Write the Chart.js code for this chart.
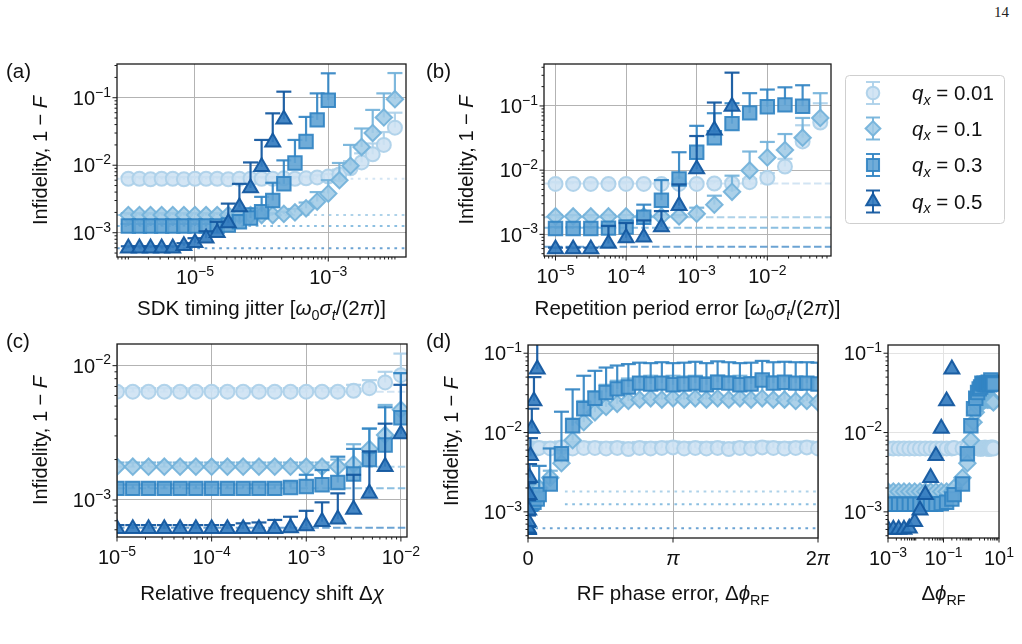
<!DOCTYPE html>
<html>
<head>
<meta charset="utf-8">
<script src="https://cdn.jsdelivr.net/npm/chart.js@4.4.1/dist/chart.umd.min.js"></script>
<style>
  body { margin: 0; background: #fff; }
  #fig { position: relative; width: 1022px; height: 644px; overflow: hidden; background: #fff; }
  #fig canvas { position: absolute; }
  #pagenum { position: absolute; left: 994px; top: 4px; font: 15px 'Liberation Serif', serif; color: #222; }
</style>
</head>
<body>
<div id="fig">
  <div id="pagenum">14</div>
  <canvas id="chart-a" width="420" height="290" style="left:0;top:40px"></canvas>
  <canvas id="chart-b" width="602" height="290" style="left:420px;top:40px"></canvas>
  <canvas id="chart-c" width="420" height="300" style="left:0;top:325px"></canvas>
  <canvas id="chart-d" width="410" height="300" style="left:420px;top:325px"></canvas>
  <canvas id="chart-d2" width="192" height="300" style="left:830px;top:325px"></canvas>
</div>
<script>
// ---------- dados ----------
// legenda
const legendLabels = ['0.01', '0.1', '0.3', '0.5'];

// (a) SDK timing jitter
const xA = [1e-6, 1.468e-6, 2.154e-6, 3.162e-6, 4.642e-6, 6.813e-6,
            1e-5, 1.468e-5, 2.154e-5, 3.162e-5, 4.642e-5, 6.813e-5,
            1e-4, 1.468e-4, 2.154e-4, 3.162e-4, 4.642e-4, 6.813e-4,
            1e-3, 1.468e-3, 2.154e-3, 3.162e-3, 4.642e-3, 6.813e-3, 1e-2];
const circA = [6.3e-3, 6.3e-3, 6.2e-3, 6.3e-3, 6.3e-3, 6.2e-3, 6.3e-3, 6.3e-3, 6.3e-3, 6.2e-3, 6.3e-3, 6.3e-3,
               6.3e-3, 6.3e-3, 6.4e-3, 6.3e-3, 6.4e-3, 6.6e-3, 6.8e-3, 7.3e-3, 9.0e-3, 1.1e-2, 1.45e-2, 2.0e-2, 3.6e-2];
const circAHi = [6.7e-3, 6.7e-3, 6.7e-3, 6.7e-3, 6.7e-3, 6.7e-3, 6.7e-3, 6.7e-3, 6.7e-3, 6.7e-3, 6.7e-3, 6.7e-3,
                 6.7e-3, 6.7e-3, 6.8e-3, 6.7e-3, 6.8e-3, 7.1e-3, 7.4e-3, 8.6e-3, 1.15e-2, 1.5e-2, 2.1e-2, 3.1e-2, 6.0e-2];
const diamA = [1.83e-3, 1.83e-3, 1.83e-3, 1.83e-3, 1.83e-3, 1.83e-3, 1.83e-3, 1.83e-3, 1.83e-3, 1.83e-3, 1.83e-3, 1.83e-3,
               1.83e-3, 1.83e-3, 1.9e-3, 2.0e-3, 2.3e-3, 2.9e-3, 3.8e-3, 6.0e-3, 9.8e-3, 1.86e-2, 3.0e-2, 5.1e-2, 9.5e-2];
const diamAHi = [1.95e-3, 1.95e-3, 1.95e-3, 1.95e-3, 1.95e-3, 1.95e-3, 1.95e-3, 1.95e-3, 1.95e-3, 1.95e-3, 1.95e-3, 1.95e-3,
                 1.95e-3, 1.95e-3, 2.05e-3, 2.25e-3, 2.8e-3, 4.0e-3, 6.0e-3, 1.08e-2, 2.0e-2, 3.5e-2, 6.6e-2, 1.16e-1, 2.32e-1];
const sqA = [1.26e-3, 1.26e-3, 1.26e-3, 1.26e-3, 1.26e-3, 1.26e-3, 1.26e-3, 1.26e-3, 1.26e-3, 1.3e-3,
             1.45e-3, 1.65e-3, 2.05e-3, 3.0e-3, 5.3e-3, 1.08e-2, 2.25e-2, 4.7e-2, 9.2e-2];
const sqAHi = [1.35e-3, 1.35e-3, 1.35e-3, 1.35e-3, 1.35e-3, 1.35e-3, 1.35e-3, 1.35e-3, 1.35e-3, 1.5e-3,
               1.8e-3, 2.3e-3, 3.4e-3, 5.5e-3, 1.18e-2, 2.37e-2, 5.2e-2, 1.16e-1, 2.3e-1];
const triA = [5.9e-4, 5.9e-4, 5.9e-4, 5.9e-4, 5.9e-4, 6.4e-4, 7.1e-4, 8.3e-4, 1.0e-3, 1.4e-3,
              2.4e-3, 4.6e-3, 9.5e-3, 2.2e-2, 4.8e-2];
const triAHi = [6.3e-4, 6.3e-4, 6.3e-4, 6.3e-4, 6.3e-4, 7.0e-4, 8.3e-4, 1.05e-3, 1.45e-3, 2.7e-3,
                5.3e-3, 1.1e-2, 2.37e-2, 5.87e-2, 1.23e-1];
const refA = [6.3e-3, 1.83e-3, 1.26e-3, 5.9e-4];

// (b) Repetition period error
const xB = [1e-5, 1.778e-5, 3.162e-5, 5.623e-5, 1e-4, 1.778e-4, 3.162e-4, 5.623e-4,
            1e-3, 1.778e-3, 3.162e-3, 5.623e-3, 1e-2, 1.778e-2, 3.162e-2, 5.623e-2];
const circB = [6.1e-3, 6.1e-3, 6.1e-3, 6.1e-3, 6.1e-3, 6.1e-3, 6.1e-3, 6.1e-3, 6.1e-3, 6.2e-3, 6.2e-3, 6.5e-3, 7.6e-3, 1.14e-2, 2.8e-2, 5.5e-2];
const circBHi = [6.5e-3, 6.5e-3, 6.5e-3, 6.5e-3, 6.5e-3, 6.5e-3, 6.5e-3, 6.5e-3, 6.5e-3, 6.7e-3, 6.8e-3, 7.3e-3, 9.0e-3, 1.5e-2, 5.0e-2, 1.1e-1];
const diamB = [1.9e-3, 1.9e-3, 1.9e-3, 1.9e-3, 1.9e-3, 1.9e-3, 1.9e-3, 1.9e-3, 2.1e-3, 2.9e-3, 4.6e-3, 9.9e-3, 1.58e-2, 2.06e-2, 3.2e-2, 6.5e-2];
const diamBHi = [2.0e-3, 2.0e-3, 2.0e-3, 2.0e-3, 2.0e-3, 2.0e-3, 2.0e-3, 2.0e-3, 2.6e-3, 4.0e-3, 8.2e-3, 1.95e-2, 2.75e-2, 3.65e-2, 6.5e-2, 1.58e-1];
const sqB = [1.23e-3, 1.23e-3, 1.23e-3, 1.25e-3, 1.3e-3, 1.85e-3, 3.4e-3, 7.3e-3, 1.9e-2, 3.2e-2, 5.3e-2, 7.8e-2, 9.7e-2, 1.04e-1, 9.9e-2];
const sqBHi = [1.3e-3, 1.3e-3, 1.3e-3, 1.4e-3, 1.6e-3, 2.9e-3, 7.0e-3, 1.9e-2, 4.9e-2, 7.7e-2, 1.1e-1, 1.58e-1, 1.8e-1, 1.95e-1, 2.1e-1];
const triB = [5.9e-4, 5.9e-4, 5.9e-4, 7.2e-4, 8.8e-4, 9.0e-4, 1.3e-3, 2.8e-3, 1.04e-2, 4.2e-2, 9.8e-2];
const triBHi = [6.2e-4, 6.2e-4, 6.2e-4, 1.35e-3, 1.5e-3, 1.65e-3, 2.3e-3, 6.0e-3, 3.4e-2, 1.13e-1, 3.3e-1];
const refB = [6.2e-3, 1.85e-3, 1.27e-3, 6.4e-4];

// (c) Relative frequency shift
const xC = [1e-5, 1.468e-5, 2.154e-5, 3.162e-5, 4.642e-5, 6.813e-5, 1e-4, 1.468e-4, 2.154e-4, 3.162e-4,
            4.642e-4, 6.813e-4, 1e-3, 1.468e-3, 2.154e-3, 3.162e-3, 4.642e-3, 6.813e-3, 1e-2];
const circC = [6.4e-3, 6.4e-3, 6.4e-3, 6.4e-3, 6.4e-3, 6.4e-3, 6.4e-3, 6.4e-3, 6.4e-3, 6.4e-3,
               6.4e-3, 6.4e-3, 6.4e-3, 6.4e-3, 6.4e-3, 6.5e-3, 6.8e-3, 7.5e-3, 8.5e-3];
const circCHi = [6.8e-3, 6.8e-3, 6.8e-3, 6.8e-3, 6.8e-3, 6.8e-3, 6.8e-3, 6.8e-3, 6.8e-3, 6.8e-3,
                 6.8e-3, 6.8e-3, 6.8e-3, 6.8e-3, 6.8e-3, 7.2e-3, 7.8e-3, 9.0e-3, 1.23e-2];
const diamC = [1.77e-3, 1.77e-3, 1.77e-3, 1.77e-3, 1.77e-3, 1.77e-3, 1.77e-3, 1.77e-3, 1.77e-3, 1.77e-3,
               1.77e-3, 1.77e-3, 1.77e-3, 1.77e-3, 1.77e-3, 1.85e-3, 2.4e-3, 3.05e-3, 4.7e-3];
const diamCHi = [1.9e-3, 1.9e-3, 1.9e-3, 1.9e-3, 1.9e-3, 1.9e-3, 1.9e-3, 1.9e-3, 1.9e-3, 1.9e-3,
                 1.9e-3, 1.9e-3, 1.9e-3, 1.9e-3, 2.0e-3, 2.6e-3, 3.4e-3, 5.1e-3, 8.8e-3];
const sqC = [1.22e-3, 1.22e-3, 1.22e-3, 1.22e-3, 1.22e-3, 1.22e-3, 1.22e-3, 1.22e-3, 1.22e-3, 1.22e-3,
             1.22e-3, 1.24e-3, 1.26e-3, 1.3e-3, 1.35e-3, 1.56e-3, 2.0e-3, 2.57e-3, 4.1e-3];
const sqCHi = [1.3e-3, 1.3e-3, 1.3e-3, 1.3e-3, 1.3e-3, 1.3e-3, 1.3e-3, 1.3e-3, 1.3e-3, 1.3e-3,
               1.3e-3, 1.35e-3, 1.54e-3, 1.67e-3, 2.1e-3, 2.4e-3, 3.4e-3, 4.9e-3, 8.8e-3];
const triC = [6.1e-4, 6.1e-4, 6.1e-4, 6.1e-4, 6.1e-4, 6.1e-4, 6.1e-4, 6.1e-4, 6.1e-4, 6.1e-4,
              6.1e-4, 6.2e-4, 6.4e-4, 6.9e-4, 7.2e-4, 8.5e-4, 1.12e-3, 1.77e-3, 3.1e-3];
const triCHi = [6.5e-4, 6.5e-4, 6.5e-4, 6.5e-4, 6.5e-4, 6.5e-4, 6.5e-4, 6.5e-4, 6.7e-4, 6.8e-4,
                7.1e-4, 7.5e-4, 8.3e-4, 9.6e-4, 1.12e-3, 1.54e-3, 2.3e-3, 3.7e-3, 7.2e-3];
const refC = [6.4e-3, 1.77e-3, 1.22e-3, 6.2e-4];

// (d) RF phase error (mesmos pontos nos dois painéis)
const xD = [0.001, 0.00156, 0.00242, 0.00376, 0.00586, 0.00911, 0.0142, 0.0221, 0.0343, 0.0534, 0.083, 0.129, 0.2,
            0.242, 0.483, 0.725, 0.967, 1.208, 1.450, 1.692, 1.933, 2.175, 2.417, 2.658, 2.900, 3.142,
            3.383, 3.625, 3.866, 4.108, 4.350, 4.591, 4.833, 5.075, 5.316, 5.558, 5.800, 6.041, 6.283];
const circD = [6.3e-3, 6.3e-3, 6.3e-3, 6.3e-3, 6.3e-3, 6.3e-3, 6.3e-3, 6.3e-3, 6.3e-3, 6.3e-3, 6.3e-3, 6.3e-3, 6.3e-3,
               6.4e-3, 6.3e-3, 6.5e-3, 6.3e-3, 6.4e-3, 6.4e-3, 6.3e-3, 6.4e-3, 6.2e-3, 6.4e-3, 6.3e-3, 6.4e-3, 6.5e-3,
               6.3e-3, 6.4e-3, 6.3e-3, 6.4e-3, 6.2e-3, 6.4e-3, 6.3e-3, 6.5e-3, 6.4e-3, 6.3e-3, 6.4e-3, 6.5e-3, 6.3e-3];
const circDHi = [7.4e-3, 7.4e-3, 7.4e-3, 7.4e-3, 7.4e-3, 7.4e-3, 7.4e-3, 7.4e-3, 7.4e-3, 7.4e-3, 7.4e-3, 7.4e-3, 7.4e-3,
                 7.6e-3, 7.5e-3, 7.7e-3, 7.5e-3, 7.6e-3, 7.6e-3, 7.5e-3, 7.6e-3, 7.4e-3, 7.6e-3, 7.5e-3, 7.6e-3, 7.7e-3,
                 7.5e-3, 7.6e-3, 7.5e-3, 7.6e-3, 7.4e-3, 7.6e-3, 7.5e-3, 7.7e-3, 7.6e-3, 7.5e-3, 7.6e-3, 7.7e-3, 7.5e-3];
const diamD = [1.8e-3, 1.8e-3, 1.8e-3, 1.8e-3, 1.8e-3, 1.8e-3, 1.8e-3, 1.8e-3, 1.8e-3, 1.8e-3, 1.8e-3, 1.8e-3, 1.8e-3,
               2.0e-3, 2.7e-3, 4.1e-3, 8.0e-3, 1.35e-2, 1.8e-2, 2.1e-2, 2.3e-2, 2.5e-2, 2.6e-2, 2.7e-2, 2.6e-2, 2.7e-2,
               2.6e-2, 2.7e-2, 2.6e-2, 2.7e-2, 2.6e-2, 2.7e-2, 2.6e-2, 2.7e-2, 2.6e-2, 2.6e-2, 2.5e-2, 2.5e-2, 2.4e-2];
const diamDHi = [1.95e-3, 1.95e-3, 1.95e-3, 1.95e-3, 1.95e-3, 1.95e-3, 1.95e-3, 1.95e-3, 1.95e-3, 1.95e-3, 1.95e-3, 1.95e-3, 1.95e-3,
                 2.3e-3, 3.3e-3, 6.0e-3, 1.5e-2, 2.5e-2, 3.3e-2, 4.0e-2, 4.5e-2, 4.8e-2, 5.0e-2, 5.2e-2, 5.0e-2, 5.2e-2,
                 5.1e-2, 5.2e-2, 5.0e-2, 5.2e-2, 5.1e-2, 5.2e-2, 5.0e-2, 5.2e-2, 5.1e-2, 5.0e-2, 4.9e-2, 4.9e-2, 4.7e-2];
const sqD = [1.25e-3, 1.25e-3, 1.25e-3, 1.25e-3, 1.25e-3, 1.25e-3, 1.25e-3, 1.25e-3, 1.25e-3, 1.25e-3, 1.27e-3, 1.32e-3, 1.45e-3,
             1.65e-3, 2.25e-3, 5.4e-3, 1.22e-2, 2.0e-2, 2.7e-2, 3.2e-2, 3.55e-2, 3.75e-2, 4.2e-2, 4.1e-2, 4.2e-2, 4.0e-2,
             4.1e-2, 4.2e-2, 4.0e-2, 4.3e-2, 4.2e-2, 4.0e-2, 4.1e-2, 4.6e-2, 4.2e-2, 4.3e-2, 4.2e-2, 4.2e-2, 4.1e-2];
const sqDHi = [1.35e-3, 1.35e-3, 1.35e-3, 1.35e-3, 1.35e-3, 1.35e-3, 1.35e-3, 1.35e-3, 1.35e-3, 1.35e-3, 1.4e-3, 1.5e-3, 1.8e-3,
               3.8e-3, 6.3e-3, 1.83e-2, 3.5e-2, 5.2e-2, 6.0e-2, 6.6e-2, 7.0e-2, 7.3e-2, 7.6e-2, 7.5e-2, 7.7e-2, 7.5e-2,
               7.6e-2, 7.8e-2, 7.5e-2, 7.9e-2, 7.7e-2, 7.5e-2, 7.6e-2, 8.0e-2, 7.7e-2, 7.8e-2, 7.7e-2, 7.7e-2, 7.6e-2];
const triD = [6.0e-4, 6.0e-4, 6.0e-4, 6.0e-4, 6.2e-4, 7.5e-4, 1.05e-3, 1.65e-3, 2.7e-3, 5.1e-3, 1.13e-2, 2.5e-2, 6.3e-2];
const triDHi = [6.5e-4, 6.5e-4, 6.5e-4, 6.5e-4, 6.5e-4, 9.0e-4, 1.4e-3, 2.3e-3, 4.0e-3, 8.5e-3, 2.0e-2, 5.0e-2, 2.0e-1];
const refD = [6.3e-3, 1.8e-3, 1.25e-3, 6.2e-4];
const refStartD = [0, 0.8, 0.8, 0];

// ticks
const xTicksA = [1e-5, 1e-3];
const yTicksA = [1e-3, 1e-2, 1e-1];
const xTicksB = [1e-5, 1e-4, 1e-3, 1e-2];
const yTicksB = [1e-3, 1e-2, 1e-1];
const xTicksC = [1e-5, 1e-4, 1e-3, 1e-2];
const yTicksC = [1e-3, 1e-2];
const xTicksD = [0, Math.PI, 2 * Math.PI];
const xTickLabelsD = [[{ t: '0' }], [{ t: 'π', it: true }], [{ t: '2' }, { t: 'π', it: true }]];
const yTicksD = [1e-3, 1e-2, 1e-1];
const xTicksD2 = [1e-3, 1e-1, 1e1];
const yTicksD2 = [1e-3, 1e-2, 1e-1];

// ---------- estilo ----------
const FONT = "'Liberation Sans', Arial, sans-serif";
const TICK_FS = 20;
const LAB_FS = 20.5;
const YLAB_FS = 20;
const INK = '#111';
const FILLS = ['rgba(205,225,242,0.88)', 'rgba(160,203,230,0.88)', 'rgba(96,163,212,0.9)', 'rgba(52,124,191,0.92)'];
const EDGES = ['rgba(172,208,233,0.92)', 'rgba(115,178,218,0.92)', 'rgba(50,132,195,0.92)', 'rgba(20,88,160,0.95)'];
const REFS = ['rgba(205,225,242,0.9)', 'rgba(165,205,231,0.9)', 'rgba(120,180,220,0.85)', 'rgba(70,140,200,0.8)'];
const SHAPES = ['circle', 'rectRot', 'rect', 'triangle'];
const RADII = [7, 8.2, 9.5, 8.6];
const yLabelParts = [{ t: 'Infidelity, 1 − ' }, { t: 'F', it: true }];

function setFont(ctx, size, it) {
    ctx.font = (it ? 'italic ' : '') + size + 'px ' + FONT;
}

// texto com itálico / sub / sobrescrito
function drawRich(ctx, parts, x, y, fs, align) {
    let total = 0;
    const segs = parts.map(p => {
        const size = (p.sub || p.sup) ? fs * 0.7 : fs;
        setFont(ctx, size, p.it);
        const w = ctx.measureText(p.t).width;
        total += w;
        return { p, size, w };
    });
    let cx = align === 'center' ? x - total / 2 : align === 'right' ? x - total : x;
    ctx.textAlign = 'left';
    ctx.textBaseline = 'alphabetic';
    segs.forEach(s => {
        setFont(ctx, s.size, s.p.it);
        const dy = s.p.sup ? -fs * 0.42 : s.p.sub ? fs * 0.22 : 0;
        ctx.fillText(s.p.t, cx, y + dy);
        cx += s.w;
    });
}

function powParts(v) {
    const e = Math.round(Math.log10(v));
    return [{ t: '10' }, { t: (e < 0 ? '−' : '') + Math.abs(e), sup: true }];
}

function tickSet(scale, majors, isLog) {
    const major = majors.map(v => scale.getPixelForValue(v));
    const minor = [];
    if (isLog) {
        for (let e = Math.floor(Math.log10(scale.min)); e <= Math.ceil(Math.log10(scale.max)); e++) {
            for (let m = 1; m <= 9; m++) {
                const v = m * Math.pow(10, e);
                if (v < scale.min * 0.999 || v > scale.max * 1.001) continue;
                if (majors.some(t => Math.abs(t - v) / t < 1e-6)) continue;
                minor.push(scale.getPixelForValue(v));
            }
        }
    }
    return { major, minor };
}

function seg(ctx, x0, y0, x1, y1) {
    ctx.beginPath(); ctx.moveTo(x0, y0); ctx.lineTo(x1, y1); ctx.stroke();
}

function clipTo(ctx, a) {
    ctx.beginPath();
    ctx.rect(a.left, a.top, a.right - a.left, a.bottom - a.top);
    ctx.clip();
}

function drawLegend(ctx, lg) {
    ctx.save();
    ctx.fillStyle = 'rgba(255,255,255,0.85)';
    ctx.strokeStyle = '#cfcfcf';
    ctx.lineWidth = 1;
    ctx.beginPath();
    ctx.roundRect(lg.x + 0.5, lg.y + 0.5, lg.w, lg.h, 4);
    ctx.fill(); ctx.stroke();
    legendLabels.forEach((lab, i) => {
        const cy = lg.rows[i];
        ctx.strokeStyle = EDGES[i];
        ctx.lineWidth = 2;
        seg(ctx, lg.iconX, cy - 11, lg.iconX, cy + 11);
        seg(ctx, lg.iconX - 7, cy - 11, lg.iconX + 7, cy - 11);
        seg(ctx, lg.iconX - 7, cy + 11, lg.iconX + 7, cy + 11);
        ctx.fillStyle = FILLS[i];
        ctx.strokeStyle = EDGES[i];
        ctx.lineWidth = 2;
        Chart.helpers.drawPoint(ctx, { pointStyle: SHAPES[i], radius: RADII[i] * 0.9, borderWidth: 2, rotation: 0 }, lg.iconX, cy);
        ctx.fillStyle = INK;
        drawRich(ctx, [{ t: 'q', it: true }, { t: 'x', it: true, sub: true }, { t: ' = ' + lab }], lg.textX, cy + LAB_FS * 0.36, LAB_FS, 'left');
    });
    ctx.restore();
}

// plugin de decoração: linhas de referência, barras de erro, eixos e textos
function deco(p) {
    return {
        id: 'deco',
        beforeDatasetsDraw(chart) {
            if (!p.refs) return;
            const { ctx, chartArea: a, scales: { x, y } } = chart;
            ctx.save();
            clipTo(ctx, a);
            ctx.lineWidth = 2;
            ctx.setLineDash(p.refDash);
            p.refs.forEach((v, i) => {
                const py = y.getPixelForValue(v);
                const x0 = p.refStart ? Math.max(a.left, x.getPixelForValue(p.refStart[i])) : a.left;
                ctx.strokeStyle = REFS[i];
                seg(ctx, x0, py, a.right, py);
            });
            ctx.restore();
        },
        beforeDatasetDraw(chart, args) {
            if (!p.errorBars) return;
            const { ctx, chartArea: a, scales: { y } } = chart;
            const ds = chart.data.datasets[args.index];
            ctx.save();
            clipTo(ctx, a);
            ctx.strokeStyle = ds.borderColor;
            ctx.lineWidth = 2.2;
            args.meta.data.forEach((pt, j) => {
                const hi = ds.data[j].hi;
                if (hi == null) return;
                const yh = y.getPixelForValue(hi);
                seg(ctx, pt.x, pt.y, pt.x, yh);
                seg(ctx, pt.x - 7.5, yh, pt.x + 7.5, yh);
            });
            ctx.restore();
        },
        afterDraw(chart) {
            const { ctx, chartArea: a, scales: { x, y } } = chart;
            ctx.save();
            ctx.strokeStyle = '#1a1a1a';
            ctx.fillStyle = INK;
            ctx.lineWidth = 1;
            const xt = tickSet(x, p.xTicks, p.xType === 'logarithmic');
            xt.major.forEach(px => seg(ctx, px, a.bottom, px, a.bottom + 4.5));
            xt.minor.forEach(px => seg(ctx, px, a.bottom, px, a.bottom + 2.5));
            const yt = tickSet(y, p.yTicks, true);
            yt.major.forEach(py => seg(ctx, a.left - 4.5, py, a.left, py));
            yt.minor.forEach(py => seg(ctx, a.left - 2.5, py, a.left, py));
            ctx.lineWidth = 1.3;
            ctx.strokeRect(a.left, a.top, a.right - a.left, a.bottom - a.top);

            p.xTicks.forEach((v, i) => {
                const parts = p.xTickParts ? p.xTickParts[i] : powParts(v);
                drawRich(ctx, parts, x.getPixelForValue(v), a.bottom + 27, TICK_FS, 'center');
            });
            p.yTicks.forEach(v => {
                drawRich(ctx, powParts(v), a.left - 6, y.getPixelForValue(v) + TICK_FS * 0.36, TICK_FS, 'right');
            });
            drawRich(ctx, p.xLabel, (a.left + a.right) / 2, a.bottom + p.xLabelDy, LAB_FS, 'center');
            if (p.yLabelX) {
                ctx.save();
                ctx.translate(p.yLabelX, (a.top + a.bottom) / 2);
                ctx.rotate(-Math.PI / 2);
                drawRich(ctx, yLabelParts, 0, 0, YLAB_FS, 'center');
                ctx.restore();
            }
            if (p.letter) drawRich(ctx, [{ t: p.letter }], p.letterX, p.letterY, LAB_FS, 'left');
            if (p.legend) drawLegend(ctx, p.legend);
            ctx.restore();
        }
    };
}

function axis(type, min, max, ticks, gridColor) {
    return {
        type, min, max, bounds: 'data',
        ticks: { display: false },
        border: { display: false },
        grid: { color: gridColor, lineWidth: 1, drawTicks: false },
        afterBuildTicks: sc => { sc.ticks = ticks.map(v => ({ value: v })); }
    };
}

function buildChart(id, p) {
    const datasets = p.series.map((s, i) => ({
        label: 'q_x = ' + legendLabels[i],
        data: p.x.map((xv, j) => (s[0][j] == null ? null : { x: xv, y: s[0][j], hi: s[1] ? s[1][j] : null })).filter(d => d),
        showLine: false,
        pointStyle: SHAPES[i],
        pointRadius: RADII[i],
        pointBorderWidth: 2,
        backgroundColor: FILLS[i],
        borderColor: EDGES[i],
        order: 3 - i
    }));
    return new Chart(document.getElementById(id), {
        type: 'scatter',
        data: { datasets },
        options: {
            responsive: false,
            animation: false,
            events: [],
            layout: { padding: p.pad, autoPadding: false },
            plugins: { legend: { display: false }, tooltip: { enabled: false } },
            scales: {
                x: axis(p.xType, p.xMin, p.xMax, p.xTicks, p.grid),
                y: axis('logarithmic', p.yMin, p.yMax, p.yTicks, p.grid)
            }
        },
        plugins: [deco(p)]
    });
}

const greek = (label) => [{ t: label + ' [' }, { t: 'ω', it: true }, { t: '0', sub: true }, { t: 'σ', it: true },
    { t: 't', it: true, sub: true }, { t: '/(2' }, { t: 'π', it: true }, { t: ')]' }];

buildChart('chart-a', {
    x: xA,
    series: [[circA, circAHi], [diamA, diamAHi], [sqA, sqAHi], [triA, triAHi]],
    xType: 'logarithmic', xMin: 6.76e-7, xMax: 1.466e-2, yMin: 4.37e-4, yMax: 0.316,
    xTicks: xTicksA, yTicks: yTicksA, grid: '#b3b3b3',
    pad: { left: 117, right: 14, top: 24, bottom: 73 },
    refs: refA, refDash: [2.7, 4.6], errorBars: true,
    xLabel: greek('SDK timing jitter'), xLabelDy: 58, yLabelX: 47,
    letter: '(a)', letterX: 6, letterY: 38
});

buildChart('chart-b', {
    x: xB,
    series: [[circB, circBHi], [diamB, diamBHi], [sqB, sqBHi], [triB, triBHi]],
    xType: 'logarithmic', xMin: 6.87e-6, xMax: 7.98e-2, yMin: 4.6e-4, yMax: 0.45,
    xTicks: xTicksB, yTicks: yTicksB, grid: '#b3b3b3',
    pad: { left: 124, right: 191, top: 24, bottom: 74 },
    refs: refB, refDash: [7.5, 3.3], errorBars: true,
    xLabel: greek('Repetition period error'), xLabelDy: 59, yLabelX: 53,
    letter: '(b)', letterX: 6, letterY: 38,
    legend: { x: 425, y: 35, w: 159, h: 148, iconX: 453, textX: 492, rows: [53, 88.5, 125, 161.5] }
});

buildChart('chart-c', {
    x: xC,
    series: [[circC, circCHi], [diamC, diamCHi], [sqC, sqCHi], [triC, triCHi]],
    xType: 'logarithmic', xMin: 1e-5, xMax: 1.16e-2, yMin: 5.3e-4, yMax: 1.45e-2,
    xTicks: xTicksC, yTicks: yTicksC, grid: '#b3b3b3',
    pad: { left: 117, right: 13, top: 19, bottom: 88 },
    refs: refC, refDash: [7.5, 3.3], errorBars: true,
    xLabel: [{ t: 'Relative frequency shift Δ' }, { t: 'χ', it: true }], xLabelDy: 63, yLabelX: 47,
    letter: '(c)', letterX: 6, letterY: 23
});

buildChart('chart-d', {
    x: xD,
    series: [[circD, circDHi], [diamD, diamDHi], [sqD, sqDHi], [triD, triDHi]],
    xType: 'linear', xMin: 0, xMax: 2 * Math.PI, yMin: 4.68e-4, yMax: 0.127,
    xTicks: xTicksD, xTickParts: xTickLabelsD, yTicks: yTicksD, grid: '#b3b3b3',
    pad: { left: 108, right: 12, top: 20, bottom: 87 },
    refs: refD, refStart: refStartD, refDash: [2.7, 4.6], errorBars: true,
    xLabel: [{ t: 'RF phase error, Δ' }, { t: 'ϕ', it: true }, { t: 'RF', sub: true }], xLabelDy: 62, yLabelX: 38,
    letter: '(d)', letterX: 6, letterY: 23
});

buildChart('chart-d2', {
    x: xD,
    series: [[circD], [diamD], [sqD], [triD]],
    xType: 'logarithmic', xMin: 1e-3, xMax: 10, yMin: 4.68e-4, yMax: 0.127,
    xTicks: xTicksD2, yTicks: yTicksD2, grid: '#e3e3e3',
    pad: { left: 58, right: 23, top: 20, bottom: 87 },
    errorBars: false,
    xLabel: [{ t: 'Δ' }, { t: 'ϕ', it: true }, { t: 'RF', sub: true }], xLabelDy: 62
});
</script>
</body>
</html>
